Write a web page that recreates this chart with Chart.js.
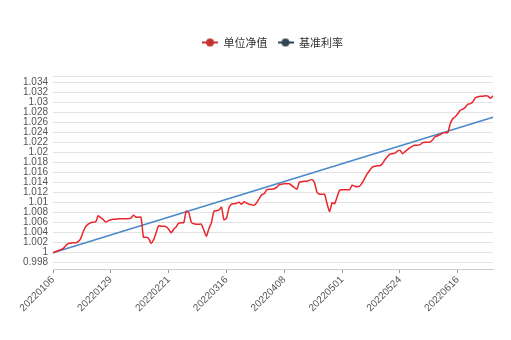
<!DOCTYPE html>
<html>
<head>
<meta charset="utf-8">
<script src="https://cdn.jsdelivr.net/npm/chart.js@4/dist/chart.umd.min.js"></script>
<style>
  html, body { margin: 0; padding: 0; background: #fff; }
  #wrap { width: 511px; height: 340px; }
</style>
</head>
<body>
<div id="wrap"><canvas id="c" width="511" height="340"></canvas></div>
<script>
// daily dates shown on the category axis
const dates = [
  "20220106","20220107","20220108","20220109","20220110","20220111","20220112","20220113","20220114","20220115",
  "20220116","20220117","20220118","20220119","20220120","20220121","20220122","20220123","20220124","20220125",
  "20220126","20220127","20220128","20220129","20220130","20220131",
  "20220201","20220202","20220203","20220204","20220205","20220206","20220207","20220208","20220209","20220210",
  "20220211","20220212","20220213","20220214","20220215","20220216","20220217","20220218","20220219","20220220",
  "20220221","20220222","20220223","20220224","20220225","20220226","20220227","20220228",
  "20220301","20220302","20220303","20220304","20220305","20220306","20220307","20220308","20220309","20220310",
  "20220311","20220312","20220313","20220314","20220315","20220316","20220317","20220318","20220319","20220320",
  "20220321","20220322","20220323","20220324","20220325","20220326","20220327","20220328","20220329","20220330","20220331",
  "20220401","20220402","20220403","20220404","20220405","20220406","20220407","20220408","20220409","20220410",
  "20220411","20220412","20220413","20220414","20220415","20220416","20220417","20220418","20220419","20220420",
  "20220421","20220422","20220423","20220424","20220425","20220426","20220427","20220428","20220429","20220430",
  "20220501","20220502","20220503","20220504","20220505","20220506","20220507","20220508","20220509","20220510",
  "20220511","20220512","20220513","20220514","20220515","20220516","20220517","20220518","20220519","20220520",
  "20220521","20220522","20220523","20220524","20220525","20220526","20220527","20220528","20220529","20220530","20220531",
  "20220601","20220602","20220603","20220604","20220605","20220606","20220607","20220608","20220609","20220610",
  "20220611","20220612","20220613","20220614","20220615","20220616","20220617","20220618","20220619","20220620",
  "20220621","20220622","20220623","20220624","20220625","20220626","20220627","20220628","20220629","20220630"
];

// 单位净值
const navValues = [
  1.0000,1.0002,1.0004,1.0006,1.0008,1.0014,1.0018,1.0019,1.0020,1.0020,
  1.0022,1.0028,1.0042,1.0052,1.0057,1.0060,1.0061,1.0062,1.0074,1.0070,
  1.0066,1.0061,1.0064,1.0066,1.0067,1.0067,1.0068,1.0068,1.0068,1.0068,
  1.0068,1.0069,1.0075,1.0071,1.0071,1.0071,1.0031,1.0031,1.0029,1.0019,
  1.0026,1.0040,1.0054,1.0053,1.0053,1.0052,1.0047,1.0040,1.0047,1.0052,
  1.0059,1.0060,1.0060,1.0083,1.0080,1.0061,1.0058,1.0057,1.0057,1.0057,
  1.0045,1.0033,1.0048,1.0060,1.0083,1.0084,1.0085,1.0091,1.0066,1.0069,
  1.0090,1.0097,1.0098,1.0099,1.0101,1.0097,1.0102,1.0099,1.0097,1.0096,
  1.0095,1.0100,1.0108,1.0116,1.0118,1.0126,1.0127,1.0127,1.0128,1.0131,
  1.0136,1.0137,1.0138,1.0138,1.0138,1.0134,1.0130,1.0127,1.0141,1.0142,
  1.0143,1.0143,1.0145,1.0146,1.0140,1.0121,1.0117,1.0117,1.0117,1.0098,
  1.0082,1.0100,1.0098,1.0112,1.0125,1.0126,1.0126,1.0126,1.0126,1.0135,
  1.0133,1.0132,1.0133,1.0140,1.0149,1.0158,1.0165,1.0171,1.0173,1.0174,
  1.0174,1.0178,1.0186,1.0192,1.0197,1.0198,1.0199,1.0203,1.0205,1.0198,
  1.0202,1.0206,1.0210,1.0213,1.0215,1.0215,1.0216,1.0220,1.0221,1.0221,
  1.0221,1.0226,1.0232,1.0234,1.0236,1.0240,1.0240,1.0240,1.0258,1.0268,
  1.0272,1.0278,1.0285,1.0287,1.0291,1.0297,1.0298,1.0302,1.0310,1.0312,
  1.0313,1.0313,1.0314,1.0313,1.0309,1.0314
];

// 基准利率: straight line, start and end only
const benchDates = ["20220106", "20220630"];
const benchValues = [1.0, 1.0271];

const seriesNames = ["单位净值", "基准利率"];
const xTickLabels = ["20220106","20220129","20220221","20220316","20220408","20220501","20220524","20220616"];
const yTicks = [0.998,1,1.002,1.004,1.006,1.008,1.01,1.012,1.014,1.016,1.018,1.02,1.022,1.024,1.026,1.028,1.03,1.032,1.034];
const yMin = 0.99674;
const yMax = 1.03534;

const lineColors = ["#e8262b", "#4a88c8"];
const legendColors = ["#c23531", "#2f4554"];
const tickFont = { family: "'Liberation Sans', 'Noto Sans CJK SC'", size: 10 };

function legendIcon(color) {
  const c = document.createElement("canvas");
  c.width = 16;
  c.height = 10;
  const g = c.getContext("2d");
  g.strokeStyle = color;
  g.lineWidth = 2;
  g.beginPath();
  g.moveTo(0, 5);
  g.lineTo(16, 5);
  g.stroke();
  g.fillStyle = color;
  g.beginPath();
  g.arc(8, 5, 4, 0, Math.PI * 2);
  g.fill();
  return c;
}
const icons = legendColors.map(legendIcon);

// taller legend block so the plot starts lower, and legend nudged right
const legendSpace = {
  id: "legendSpace",
  beforeInit(chart) {
    const fit = chart.legend.fit;
    chart.legend.fit = function () {
      fit.bind(chart.legend)();
      this.height = 49;
    };
  },
  afterLayout(chart) {
    chart.legend.left += 26;
    chart.legend.right += 26;
  }
};

new Chart(document.getElementById("c"), {
  type: "line",
  data: {
    labels: dates,
    datasets: [
      {
        label: seriesNames[0],
        data: navValues,
        borderColor: lineColors[0],
        backgroundColor: lineColors[0],
        borderWidth: 1.5,
        pointRadius: 0,
        tension: 0.2
      },
      {
        label: seriesNames[1],
        data: benchDates.map((d, i) => ({ x: d, y: benchValues[i] })),
        borderColor: lineColors[1],
        backgroundColor: lineColors[1],
        borderWidth: 1.5,
        pointRadius: 0
      }
    ]
  },
  options: {
    responsive: false,
    animation: false,
    layout: { padding: { top: 27, left: 0, right: 18, bottom: 0 } },
    plugins: {
      tooltip: { enabled: false },
      legend: {
        position: "top",
        align: "center",
        labels: {
          usePointStyle: true,
          pointStyleWidth: 16,
          boxHeight: 10,
          padding: 10,
          color: "#333",
          font: { family: "'Noto Sans CJK SC'", size: 11 },
          generateLabels: (chart) => chart.data.datasets.map((ds, i) => ({
            text: ds.label,
            pointStyle: icons[i],
            fillStyle: legendColors[i],
            strokeStyle: legendColors[i],
            lineWidth: 0,
            fontColor: "#333",
            hidden: false,
            datasetIndex: i
          }))
        }
      }
    },
    scales: {
      x: {
        type: "category",
        offset: false,
        grid: {
          drawOnChartArea: false,
          drawTicks: true,
          tickLength: 4,
          tickColor: (ctx) => xTickLabels.includes(dates[ctx.index]) ? "#999" : "rgba(0,0,0,0)"
        },
        border: { display: true, color: "#ccc" },
        ticks: {
          autoSkip: false,
          minRotation: 45,
          maxRotation: 45,
          padding: 1,
          color: "#555",
          font: tickFont,
          callback: (v, i) => xTickLabels.includes(dates[i]) ? dates[i] : ""
        },
        afterFit: (scale) => {
          scale.height = 71;
          scale.paddingLeft = 0;
          scale.paddingRight = 0;
        }
      },
      y: {
        min: yMin,
        max: yMax,
        grid: { color: "#e3e3e3", drawTicks: false },
        border: { display: false },
        ticks: {
          autoSkip: false,
          padding: 5,
          color: "#555",
          font: tickFont,
          callback: (v) => yTicks.some((t) => Math.abs(t - v) < 1e-7) ? String(+v.toFixed(3)) : ""
        },
        afterBuildTicks: (scale) => {
          scale.ticks = yTicks.concat([yMax]).map((v) => ({ value: v }));
        },
        afterFit: (scale) => {
          scale.width = 53;
        }
      }
    }
  },
  plugins: [legendSpace]
});
</script>
</body>
</html>
